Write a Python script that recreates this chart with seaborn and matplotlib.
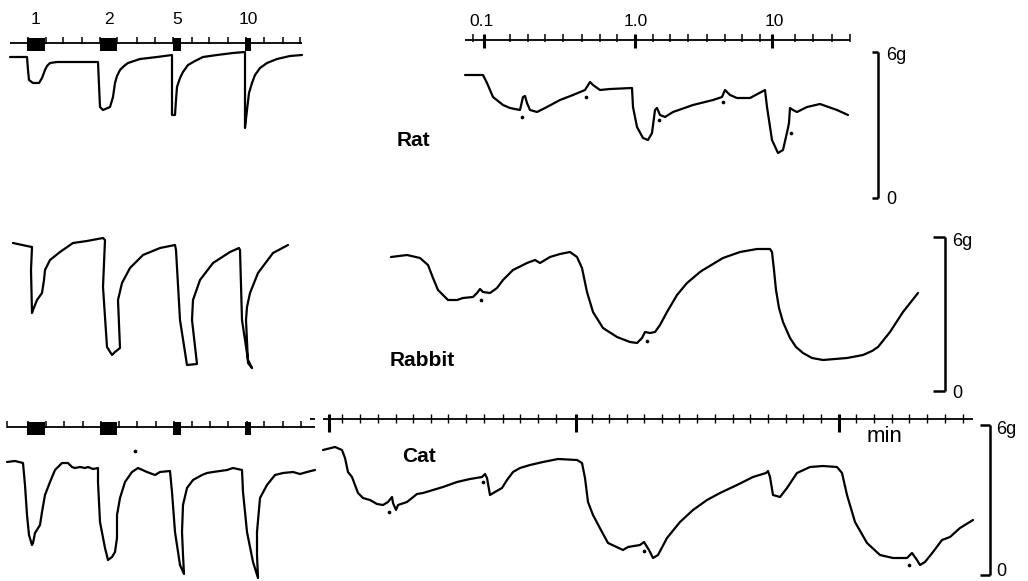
import matplotlib
matplotlib.use("Agg")
import matplotlib.pyplot as plt
import seaborn as sns
import pandas as pd

# ---------------- data (page coordinates of the recorded traces) ----------------
train_labels = ["1", "2", "5", "10"]
log_labels = ["0.1", "1.0", "10"]
species = ["Rat", "Rabbit", "Cat"]

# Rat - stimulus trains
rat_train_x = [10, 27, 28, 29, 33, 39, 42, 45, 47, 50, 57, 75, 98, 99, 100, 103, 110, 113, 115, 117, 120, 124, 128, 140, 157, 172, 172, 172, 175, 176, 177, 180, 183, 188, 195, 203, 217, 233, 245, 245, 245, 247, 249, 252, 255, 260, 267, 277, 290, 302]
rat_train_y = [57, 57, 70, 80, 83, 83, 78, 70, 66, 63, 62, 62, 62, 85, 107, 110, 107, 97, 83, 76, 70, 66, 63, 59, 57, 55, 85, 115, 115, 100, 87, 78, 72, 65, 61, 57, 55, 53, 52, 90, 128, 110, 93, 83, 75, 68, 63, 59, 56, 55]
# Rat - log frequency sweep
rat_log_x = [465, 483, 487, 493, 503, 510, 520, 523, 525, 527, 530, 537, 547, 560, 573, 585, 590, 593, 600, 610, 632, 633, 637, 643, 648, 652, 655, 657, 660, 665, 673, 693, 713, 722, 725, 730, 737, 750, 765, 767, 772, 778, 783, 788, 789, 790, 793, 797, 807, 820, 837, 848]
rat_log_y = [75, 75, 83, 97, 105, 108, 110, 97, 96, 103, 110, 112, 107, 100, 95, 90, 82, 85, 90, 89, 88, 107, 127, 138, 140, 133, 110, 108, 115, 117, 112, 105, 100, 97, 90, 95, 98, 98, 90, 107, 140, 153, 150, 128, 123, 108, 110, 112, 107, 104, 110, 115]
rat_dot_x = [522, 586, 659, 723, 791]
rat_dot_y = [117, 97, 120, 102, 133]

# Rabbit
rabbit_train_x = [13, 27, 32, 31, 32, 33, 37, 42, 44, 45, 50, 60, 73, 87, 103, 105, 103, 107, 112, 115, 120, 118, 122, 130, 143, 160, 175, 176, 180, 187, 197, 192, 193, 200, 213, 230, 239, 240, 242, 248, 252, 248, 246, 247, 250, 258, 273, 288]
rabbit_train_y = [243, 246, 247, 270, 313, 310, 300, 293, 280, 270, 260, 252, 243, 241, 238, 240, 287, 347, 355, 352, 348, 300, 283, 268, 255, 248, 245, 250, 320, 365, 364, 320, 300, 280, 263, 252, 248, 250, 320, 360, 368, 363, 320, 307, 293, 273, 253, 245]
rabbit_log_x = [391, 407, 420, 428, 433, 438, 448, 457, 463, 473, 477, 480, 483, 490, 497, 503, 513, 527, 535, 540, 550, 560, 570, 577, 582, 587, 593, 603, 617, 630, 637, 642, 645, 650, 655, 660, 667, 677, 687, 700, 703, 723, 740, 757, 770, 772, 774, 776, 779, 783, 790, 796, 803, 812, 823, 847, 863, 872, 878, 890, 903, 918]
rabbit_log_y = [257, 255, 258, 265, 278, 290, 300, 300, 298, 297, 293, 289, 292, 293, 288, 280, 270, 263, 260, 263, 257, 254, 252, 257, 268, 292, 312, 328, 337, 342, 343, 338, 332, 333, 332, 325, 312, 295, 283, 272, 270, 258, 252, 249, 249, 252, 270, 290, 308, 322, 338, 347, 353, 358, 360, 358, 355, 351, 347, 332, 312, 293]
rabbit_dot_x = [481, 647]
rabbit_dot_y = [300, 341]

# Cat
cat_train_x = [7, 15, 23, 25, 27, 29, 32, 33, 35, 40, 42, 45, 50, 55, 62, 68, 72, 75, 80, 85, 88, 93, 98, 98, 100, 105, 108, 112, 115, 117, 117, 120, 125, 132, 138, 147, 155, 160, 170, 172, 175, 180, 184, 183, 182, 183, 187, 193, 202, 207, 213, 227, 233, 242, 243, 247, 253, 258, 257, 257, 260, 267, 275, 283, 293, 300, 307, 315]
cat_train_y = [462, 461, 463, 485, 515, 535, 545, 543, 533, 525, 512, 495, 482, 470, 463, 463, 467, 468, 467, 468, 467, 469, 468, 482, 522, 548, 560, 557, 552, 538, 515, 498, 482, 472, 468, 472, 475, 472, 471, 492, 532, 565, 574, 555, 532, 505, 488, 480, 475, 473, 472, 470, 468, 470, 492, 532, 562, 578, 555, 532, 498, 485, 475, 473, 472, 474, 472, 470]
cat_log_x = [323, 335, 342, 345, 348, 352, 355, 358, 363, 370, 377, 383, 388, 392, 393, 396, 398, 407, 417, 423, 433, 443, 457, 470, 482, 485, 487, 490, 495, 502, 507, 513, 520, 530, 543, 558, 577, 582, 585, 588, 593, 602, 608, 623, 628, 640, 644, 649, 653, 658, 667, 680, 693, 707, 720, 737, 753, 766, 768, 770, 773, 780, 787, 797, 810, 823, 837, 842, 847, 855, 867, 880, 893, 907, 912, 917, 920, 925, 933, 942, 950, 960, 973]
cat_log_y = [450, 447, 450, 458, 472, 477, 485, 493, 498, 500, 504, 505, 502, 497, 503, 510, 505, 502, 494, 493, 490, 487, 482, 479, 477, 474, 478, 495, 492, 488, 480, 472, 468, 465, 462, 459, 460, 463, 478, 502, 515, 532, 543, 550, 547, 545, 542, 550, 558, 555, 538, 522, 510, 500, 493, 485, 477, 473, 471, 477, 495, 497, 488, 473, 467, 466, 467, 473, 495, 522, 543, 555, 558, 558, 553, 560, 565, 562, 552, 540, 537, 528, 520]
cat_dot_x = [135, 389, 483, 644, 909]
cat_dot_y = [451, 512, 482, 551, 565]

# stimulus markers (time axes)
train_stim_start = [27, 100, 173, 245]
train_stim_width = [18, 17, 8, 6]
train_label_x = [36, 109, 177, 248]
rat_train_ticks = [28, 46, 63, 82, 100, 117, 137, 155, 173, 192, 209, 228, 246, 264, 283, 300]
cat_train_ticks = [7, 28, 46, 64, 83, 101, 119, 137, 156, 174, 192, 210, 228, 247, 264, 283, 301]
rat_log_minor = [473, 510, 528, 545, 563, 582, 600, 617, 653, 670, 688, 707, 725, 742, 760, 795, 813, 832, 850]
rat_log_major = [484, 635, 772]
cat_min_minor = [342, 360, 378, 396, 413, 431, 448, 466, 484, 503, 520, 538, 556, 592, 609, 627, 644, 662, 679, 697, 715, 733, 750, 768, 786, 803, 821, 856, 874, 892, 909, 927, 945, 963]
cat_min_major = [329, 576, 839]

# ---------------- figure ----------------
sns.set_theme(style="white")
plt.rcParams["font.family"] = ["Liberation Sans", "DejaVu Sans"]

fig = plt.figure(figsize=(10.28, 5.81), dpi=100)
ax = fig.add_axes([0, 0, 1, 1])
ax.set_xlim(0, 1028)
ax.set_ylim(581, 0)
ax.axis("off")

K = "black"
LW = 1.6

def trace(xs, ys):
    df = pd.DataFrame({"x": xs, "y": ys})
    sns.lineplot(data=df, x="x", y="y", sort=False, estimator=None, color=K,
                 lw=LW, ax=ax, legend=False)

for xs, ys in [(rat_train_x, rat_train_y), (rat_log_x, rat_log_y),
               (rabbit_train_x, rabbit_train_y), (rabbit_log_x, rabbit_log_y),
               (cat_train_x, cat_train_y), (cat_log_x, cat_log_y)]:
    trace(xs, ys)

dots = pd.DataFrame({"x": rat_dot_x + rabbit_dot_x + cat_dot_x,
                     "y": rat_dot_y + rabbit_dot_y + cat_dot_y})
sns.scatterplot(data=dots, x="x", y="y", color=K, s=7, linewidth=0, ax=ax)

# time axes for stimulus trains
for y0, ticks, x0, x1 in [(43, rat_train_ticks, 10, 302), (427, cat_train_ticks, 7, 315)]:
    ax.hlines(y0, x0, x1, color=K, lw=1.3)
    ax.vlines(ticks, y0 - 6, y0 + 1, color=K, lw=1.1)
    ax.bar(train_stim_start, 13, width=train_stim_width, bottom=y0 - 5,
           align="edge", color=K, linewidth=0)
for lab, x in zip(train_labels, train_label_x):
    ax.text(x, 20, lab, ha="center", va="center", fontsize=12.5, color=K)

# log frequency axis (rat)
ax.hlines(40, 465, 850, color=K, lw=1.3)
ax.vlines(rat_log_minor, 34, 42, color=K, lw=1.1)
ax.vlines(rat_log_major, 34, 48, color=K, lw=2.2)
for lab, x in zip(log_labels, [481, 636, 774]):
    ax.text(x, 21, lab, ha="center", va="center", fontsize=12.5, color=K)

# minutes axis (cat)
ax.hlines(419, 310, 315, color=K, lw=1.3)
ax.hlines(419, 323, 973, color=K, lw=1.3)
ax.vlines(cat_min_minor, 414, 423, color=K, lw=1.0)
ax.vlines(cat_min_major, 414, 432, color=K, lw=2.2)
ax.text(884, 437, "min", ha="center", va="center", fontsize=16, color=K)

# species labels
for lab, (x, y) in zip(species, [(397, 141), (390, 360), (402, 456)]):
    ax.text(x, y, lab, ha="left", va="center", fontsize=15, fontweight="bold", color=K)

# 6 g calibration bars
for bx, top, bot, tl, tx, oy in [(878, 52, 198, 6, 886, 2), (945, 237, 391, 12, 952, 2),
                                (990, 425, 575, 10, 996, -4)]:
    ax.vlines(bx, top, bot, color=K, lw=1.8)
    ax.hlines([top, bot], bx - tl, bx, color=K, lw=1.8)
    ax.text(tx, top + 4, "6g", ha="left", va="center", fontsize=13, color=K)
    ax.text(tx, bot + oy, "0", ha="left", va="center", fontsize=13, color=K)

fig.savefig("out.png", dpi=100, facecolor="white")
